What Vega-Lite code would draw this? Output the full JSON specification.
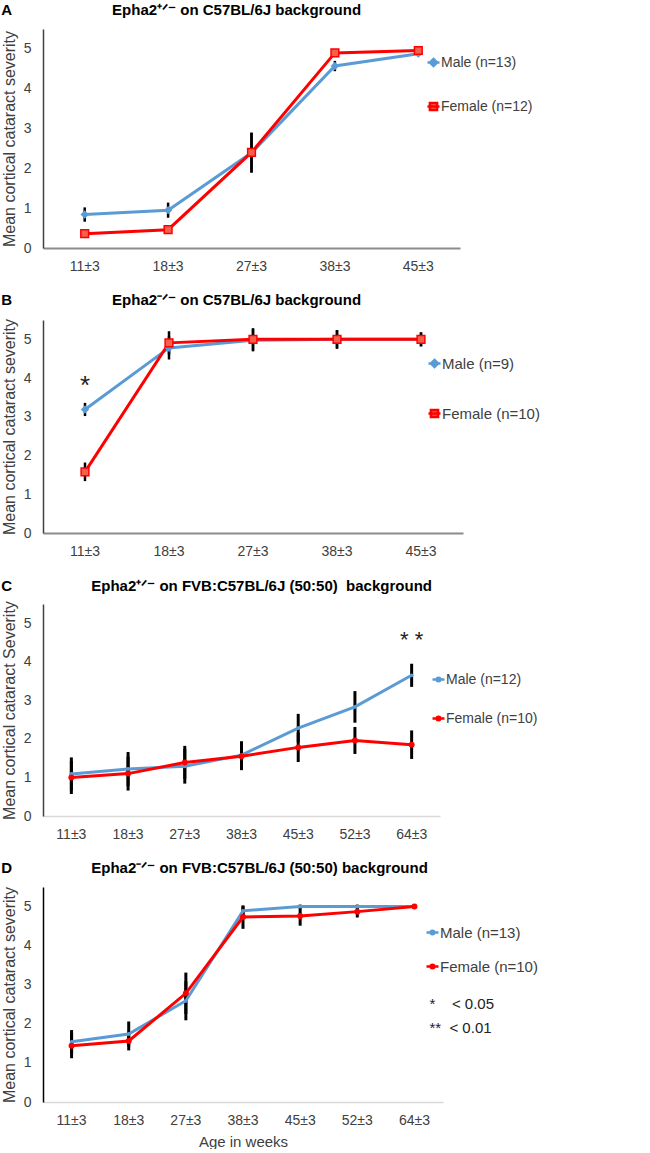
{
  "$schema": "https://vega.github.io/schema/vega-lite/v6.json",
  "padding": {"left": 1, "top": 3, "right": 0, "bottom": 0},
  "spacing": 20,
  "background": "white",
  "config": {
    "view": {"stroke": null},
    "font": "Liberation Sans, sans-serif",
    "axis": {"grid": false, "ticks": false, "labelFont": "Liberation Sans", "labelFontSize": 14, "labelColor": "#404040", "domainColor": "#404040", "domainWidth": 1.5, "titleFont": "Liberation Sans", "titleFontSize": 16, "titleFontWeight": "normal", "titleColor": "#404040"},
    "axisX": {"labelAngle": 0, "labelPadding": 11, "domainColor": "#8c8c8c", "domainWidth": 2},
    "axisY": {"labelPadding": 12, "titlePadding": 6},
    "title": {"anchor": "start", "frame": "bounds", "fontSize": 15, "font": "Liberation Sans", "fontWeight": "bold", "color": "#000000", "offset": 10},
    "legend": {"orient": "none", "labelFont": "Liberation Sans", "labelColor": "#404040", "title": null, "labelOffset": 0, "labelLimit": 300, "symbolSize": 144}
  },
  "resolve": {"scale": {"color": "independent", "x": "independent", "y": "independent"}, "legend": {"color": "independent"}},
  "vconcat": [
    {
      "width": 417, "height": 219,
      "title": {"text": "A\u00a0\u00a0\u00a0\u00a0\u00a0\u00a0\u00a0\u00a0\u00a0\u00a0\u00a0\u00a0\u00a0\u00a0\u00a0\u00a0\u00a0\u00a0\u00a0\u00a0\u00a0\u00a0\u00a0\u00a0Epha2⁺ᐟ⁻ on C57BL/6J background", "offset": 11},
      "data": {"values": [
        {"age": "11±3", "series": "Male (n=13)", "mean": 0.84, "err": 0.18},
        {"age": "18±3", "series": "Male (n=13)", "mean": 0.95, "err": 0.19},
        {"age": "27±3", "series": "Male (n=13)", "mean": 2.39, "err": 0.5},
        {"age": "38±3", "series": "Male (n=13)", "mean": 4.57, "err": 0.13},
        {"age": "45±3", "series": "Male (n=13)", "mean": 4.88, "err": 0.05},
        {"age": "11±3", "series": "Female (n=12)", "mean": 0.36, "err": 0.11},
        {"age": "18±3", "series": "Female (n=12)", "mean": 0.46, "err": 0.1},
        {"age": "27±3", "series": "Female (n=12)", "mean": 2.4, "err": 0.5},
        {"age": "38±3", "series": "Female (n=12)", "mean": 4.9, "err": 0.05},
        {"age": "45±3", "series": "Female (n=12)", "mean": 4.96, "err": 0.03}
      ]},
      "encoding": {
        "x": {"field": "age", "type": "ordinal", "scale": {"domain": ["11±3", "18±3", "27±3", "38±3", "45±3"]}, "axis": {"title": null}},
        "y": {"field": "mean", "type": "quantitative", "scale": {"domain": [0, 5.5], "nice": false}, "axis": {"values": [0, 1, 2, 3, 4, 5], "title": "Mean cortical cataract severity"}}
      },
      "layer": [
        {"mark": {"type": "errorbar", "color": "#000000", "thickness": 2.5}, "encoding": {"yError": {"field": "err"}}},
        {"mark": {"type": "line", "strokeWidth": 3},
         "encoding": {"color": {"field": "series", "type": "nominal", "sort": null, "scale": {"domain": ["Male (n=13)", "Female (n=12)"], "range": ["#5B9BD5", "#FF0000"]},
           "legend": {"legendX": 383, "legendY": 26, "rowPadding": 25, "labelFontSize": 14,
             "encode": {"symbols": {"update": {
               "shape": {"signal": "indexof(datum.value,'Male')===0 ? 'M-1,0H1M0,-0.6L0.6,0L0,0.6L-0.6,0Z' : 'M-1,0H1M-0.6,-0.6H0.6V0.6H-0.6Z'"},
               "fill": {"signal": "indexof(datum.value,'Male')===0 ? '#5B9BD5' : '#F4604C'"},
               "stroke": {"signal": "indexof(datum.value,'Male')===0 ? '#5B9BD5' : '#FF0000'"},
               "strokeWidth": {"value": 2.5}, "opacity": {"value": 1}}}}}}}},
        {"transform": [{"filter": "datum.series === 'Male (n=13)'"}],
         "mark": {"type": "point", "filled": true, "shape": "diamond", "size": 70, "color": "#5B9BD5", "opacity": 1}},
        {"transform": [{"filter": "datum.series === 'Female (n=12)'"}],
         "mark": {"type": "point", "filled": true, "shape": "square", "size": 60, "fill": "#F4604C", "stroke": "#FF0000", "strokeWidth": 1.5, "opacity": 1}}
      ]
    },
    {
      "width": 420, "height": 213,
      "title": {"text": "B\u00a0\u00a0\u00a0\u00a0\u00a0\u00a0\u00a0\u00a0\u00a0\u00a0\u00a0\u00a0\u00a0\u00a0\u00a0\u00a0\u00a0\u00a0\u00a0\u00a0\u00a0\u00a0\u00a0\u00a0Epha2⁻ᐟ⁻ on C57BL/6J background"},
      "data": {"values": [
        {"age": "11±3", "series": "Male (n=9)", "mean": 3.19, "err": 0.17},
        {"age": "18±3", "series": "Male (n=9)", "mean": 4.78, "err": 0.3},
        {"age": "27±3", "series": "Male (n=9)", "mean": 4.98, "err": 0.29},
        {"age": "38±3", "series": "Male (n=9)", "mean": 5.0, "err": 0.24},
        {"age": "45±3", "series": "Male (n=9)", "mean": 5.0, "err": 0.18},
        {"age": "11±3", "series": "Female (n=10)", "mean": 1.58, "err": 0.24},
        {"age": "18±3", "series": "Female (n=10)", "mean": 4.91, "err": 0.3},
        {"age": "27±3", "series": "Female (n=10)", "mean": 5.0, "err": 0.29},
        {"age": "38±3", "series": "Female (n=10)", "mean": 5.0, "err": 0.24},
        {"age": "45±3", "series": "Female (n=10)", "mean": 5.0, "err": 0.18}
      ]},
      "encoding": {
        "x": {"field": "age", "type": "ordinal", "scale": {"domain": ["11±3", "18±3", "27±3", "38±3", "45±3"]}, "axis": {"title": null}},
        "y": {"field": "mean", "type": "quantitative", "scale": {"domain": [0, 5.5], "nice": false}, "axis": {"values": [0, 1, 2, 3, 4, 5], "title": "Mean cortical cataract severity"}}
      },
      "layer": [
        {"mark": {"type": "errorbar", "color": "#000000", "thickness": 2.5}, "encoding": {"yError": {"field": "err"}}},
        {"mark": {"type": "line", "strokeWidth": 3},
         "encoding": {"color": {"field": "series", "type": "nominal", "sort": null, "scale": {"domain": ["Male (n=9)", "Female (n=10)"], "range": ["#5B9BD5", "#FF0000"]},
           "legend": {"legendX": 384, "legendY": 36, "rowPadding": 31, "labelFontSize": 15,
             "encode": {"symbols": {"update": {
               "shape": {"signal": "indexof(datum.value,'Male')===0 ? 'M-1,0H1M0,-0.6L0.6,0L0,0.6L-0.6,0Z' : 'M-1,0H1M-0.6,-0.6H0.6V0.6H-0.6Z'"},
               "fill": {"signal": "indexof(datum.value,'Male')===0 ? '#5B9BD5' : '#F4604C'"},
               "stroke": {"signal": "indexof(datum.value,'Male')===0 ? '#5B9BD5' : '#FF0000'"},
               "strokeWidth": {"value": 2.5}, "opacity": {"value": 1}}}}}}}},
        {"transform": [{"filter": "datum.series === 'Male (n=9)'"}],
         "mark": {"type": "point", "filled": true, "shape": "diamond", "size": 70, "color": "#5B9BD5", "opacity": 1}},
        {"transform": [{"filter": "datum.series === 'Female (n=10)'"}],
         "mark": {"type": "point", "filled": true, "shape": "square", "size": 60, "fill": "#F4604C", "stroke": "#FF0000", "strokeWidth": 1.5, "opacity": 1}},
        {"data": {"values": [{"age": "11±3", "mean": 3.95, "t": "*"}]},
         "mark": {"type": "text", "fontSize": 26, "font": "Liberation Sans", "color": "#222222", "baseline": "middle", "dy": 6},
         "encoding": {"text": {"field": "t"}}}
      ]
    },
    {
      "width": 397, "height": 212,
      "title": {"text": "C\u00a0\u00a0\u00a0\u00a0\u00a0\u00a0\u00a0\u00a0\u00a0\u00a0\u00a0\u00a0\u00a0\u00a0\u00a0\u00a0\u00a0\u00a0\u00a0Epha2⁺ᐟ⁻ on FVB:C57BL/6J (50:50)\u00a0 background", "offset": 7},
      "data": {"values": [
        {"age": "11±3", "series": "Male (n=12)", "mean": 1.09, "err": 0.43},
        {"age": "18±3", "series": "Male (n=12)", "mean": 1.22, "err": 0.44},
        {"age": "27±3", "series": "Male (n=12)", "mean": 1.29, "err": 0.45},
        {"age": "38±3", "series": "Male (n=12)", "mean": 1.58, "err": 0.36},
        {"age": "45±3", "series": "Male (n=12)", "mean": 2.28, "err": 0.37},
        {"age": "52±3", "series": "Male (n=12)", "mean": 2.83, "err": 0.41},
        {"age": "64±3", "series": "Male (n=12)", "mean": 3.65, "err": 0.3},
        {"age": "11±3", "series": "Female (n=10)", "mean": 1.0, "err": 0.43},
        {"age": "18±3", "series": "Female (n=10)", "mean": 1.1, "err": 0.44},
        {"age": "27±3", "series": "Female (n=10)", "mean": 1.39, "err": 0.43},
        {"age": "38±3", "series": "Female (n=10)", "mean": 1.55, "err": 0.36},
        {"age": "45±3", "series": "Female (n=10)", "mean": 1.78, "err": 0.38},
        {"age": "52±3", "series": "Female (n=10)", "mean": 1.96, "err": 0.35},
        {"age": "64±3", "series": "Female (n=10)", "mean": 1.85, "err": 0.37}
      ]},
      "encoding": {
        "x": {"field": "age", "type": "ordinal", "scale": {"domain": ["11±3", "18±3", "27±3", "38±3", "45±3", "52±3", "64±3"]}, "axis": {"title": null, "domainColor": "#d9d9d9", "domainWidth": 1.5}},
        "y": {"field": "mean", "type": "quantitative", "scale": {"domain": [0, 5.5], "nice": false}, "axis": {"values": [0, 1, 2, 3, 4, 5], "title": "Mean cortical cataract Severity"}}
      },
      "layer": [
        {"mark": {"type": "errorbar", "color": "#000000", "thickness": 3}, "encoding": {"yError": {"field": "err"}}},
        {"mark": {"type": "line", "strokeWidth": 3},
         "encoding": {"color": {"field": "series", "type": "nominal", "sort": null, "scale": {"domain": ["Male (n=12)", "Female (n=10)"], "range": ["#5B9BD5", "#FF0000"]},
           "legend": {"legendX": 388, "legendY": 68, "rowPadding": 24, "labelFontSize": 14,
             "encode": {"symbols": {"update": {
               "shape": {"value": "M-1,0H1M-0.3,0A0.3,0.3,0,1,0,0.3,0A0.3,0.3,0,1,0,-0.3,0Z"},
               "fill": {"signal": "indexof(datum.value,'Male')===0 ? '#5B9BD5' : '#FF0000'"},
               "stroke": {"signal": "indexof(datum.value,'Male')===0 ? '#5B9BD5' : '#FF0000'"},
               "strokeWidth": {"value": 2.5}, "opacity": {"value": 1}}}}}}}},
        {"transform": [{"filter": "datum.series === 'Male (n=12)'"}],
         "mark": {"type": "point", "filled": true, "shape": "circle", "size": 14, "color": "#5B9BD5", "opacity": 1}},
        {"transform": [{"filter": "datum.series === 'Female (n=10)'"}],
         "mark": {"type": "point", "filled": true, "shape": "circle", "size": 36, "color": "#FF0000", "opacity": 1}},
        {"data": {"values": [{"age": "64±3", "mean": 4.72, "t": "* *"}]},
         "mark": {"type": "text", "fontSize": 22, "font": "Liberation Sans", "color": "#222222", "baseline": "middle", "dy": 6},
         "encoding": {"text": {"field": "t"}}}
      ]
    },
    {
      "width": 400, "height": 215,
      "title": {"text": "D\u00a0\u00a0\u00a0\u00a0\u00a0\u00a0\u00a0\u00a0\u00a0\u00a0\u00a0\u00a0\u00a0\u00a0\u00a0\u00a0\u00a0\u00a0\u00a0Epha2⁻ᐟ⁻ on FVB:C57BL/6J (50:50) background"},
      "data": {"values": [
        {"age": "11±3", "series": "Male (n=13)", "mean": 1.54, "err": 0.3},
        {"age": "18±3", "series": "Male (n=13)", "mean": 1.74, "err": 0.32},
        {"age": "27±3", "series": "Male (n=13)", "mean": 2.59, "err": 0.5},
        {"age": "38±3", "series": "Male (n=13)", "mean": 4.89, "err": 0.12},
        {"age": "45±3", "series": "Male (n=13)", "mean": 5.0, "err": 0.05},
        {"age": "52±3", "series": "Male (n=13)", "mean": 5.0, "err": 0.05},
        {"age": "64±3", "series": "Male (n=13)", "mean": 5.0, "err": 0.0},
        {"age": "11±3", "series": "Female (n=10)", "mean": 1.44, "err": 0.32},
        {"age": "18±3", "series": "Female (n=10)", "mean": 1.56, "err": 0.24},
        {"age": "27±3", "series": "Female (n=10)", "mean": 2.78, "err": 0.53},
        {"age": "38±3", "series": "Female (n=10)", "mean": 4.73, "err": 0.3},
        {"age": "45±3", "series": "Female (n=10)", "mean": 4.76, "err": 0.25},
        {"age": "52±3", "series": "Female (n=10)", "mean": 4.87, "err": 0.15},
        {"age": "64±3", "series": "Female (n=10)", "mean": 5.0, "err": 0.03}
      ]},
      "encoding": {
        "x": {"field": "age", "type": "ordinal", "scale": {"domain": ["11±3", "18±3", "27±3", "38±3", "45±3", "52±3", "64±3"]}, "axis": {"title": "Age in weeks", "titleFontSize": 15, "titlePadding": 7, "domainColor": "#d9d9d9", "domainWidth": 1.5}},
        "y": {"field": "mean", "type": "quantitative", "scale": {"domain": [0, 5.5], "nice": false}, "axis": {"values": [0, 1, 2, 3, 4, 5], "title": "Mean cortical cataract severity", "domainColor": "#000000"}}
      },
      "layer": [
        {"mark": {"type": "errorbar", "color": "#000000", "thickness": 3}, "encoding": {"yError": {"field": "err"}}},
        {"mark": {"type": "line", "strokeWidth": 3},
         "encoding": {"color": {"field": "series", "type": "nominal", "sort": null, "scale": {"domain": ["Male (n=13)", "Female (n=10)"], "range": ["#5B9BD5", "#FF0000"]},
           "legend": {"legendX": 382, "legendY": 38, "rowPadding": 18, "labelFontSize": 15,
             "encode": {"symbols": {"update": {
               "shape": {"value": "M-1,0H1M-0.3,0A0.3,0.3,0,1,0,0.3,0A0.3,0.3,0,1,0,-0.3,0Z"},
               "fill": {"signal": "indexof(datum.value,'Male')===0 ? '#5B9BD5' : '#FF0000'"},
               "stroke": {"signal": "indexof(datum.value,'Male')===0 ? '#5B9BD5' : '#FF0000'"},
               "strokeWidth": {"value": 2.5}, "opacity": {"value": 1}}}}}}}},
        {"transform": [{"filter": "datum.series === 'Male (n=13)'"}],
         "mark": {"type": "point", "filled": true, "shape": "circle", "size": 14, "color": "#5B9BD5", "opacity": 1}},
        {"transform": [{"filter": "datum.series === 'Female (n=10)'"}],
         "mark": {"type": "point", "filled": true, "shape": "circle", "size": 36, "color": "#FF0000", "opacity": 1}},
        {"data": {"values": [
            {"age": "64±3", "mean": 2.5, "t": "*\u00a0\u00a0\u00a0\u00a0< 0.05"},
            {"age": "64±3", "mean": 1.9, "t": "**\u00a0\u00a0< 0.01"}]},
         "mark": {"type": "text", "fontSize": 15, "font": "Liberation Sans", "color": "#222222", "baseline": "middle", "align": "left", "dx": 15},
         "encoding": {"text": {"field": "t"}}}
      ]
    }
  ]
}
